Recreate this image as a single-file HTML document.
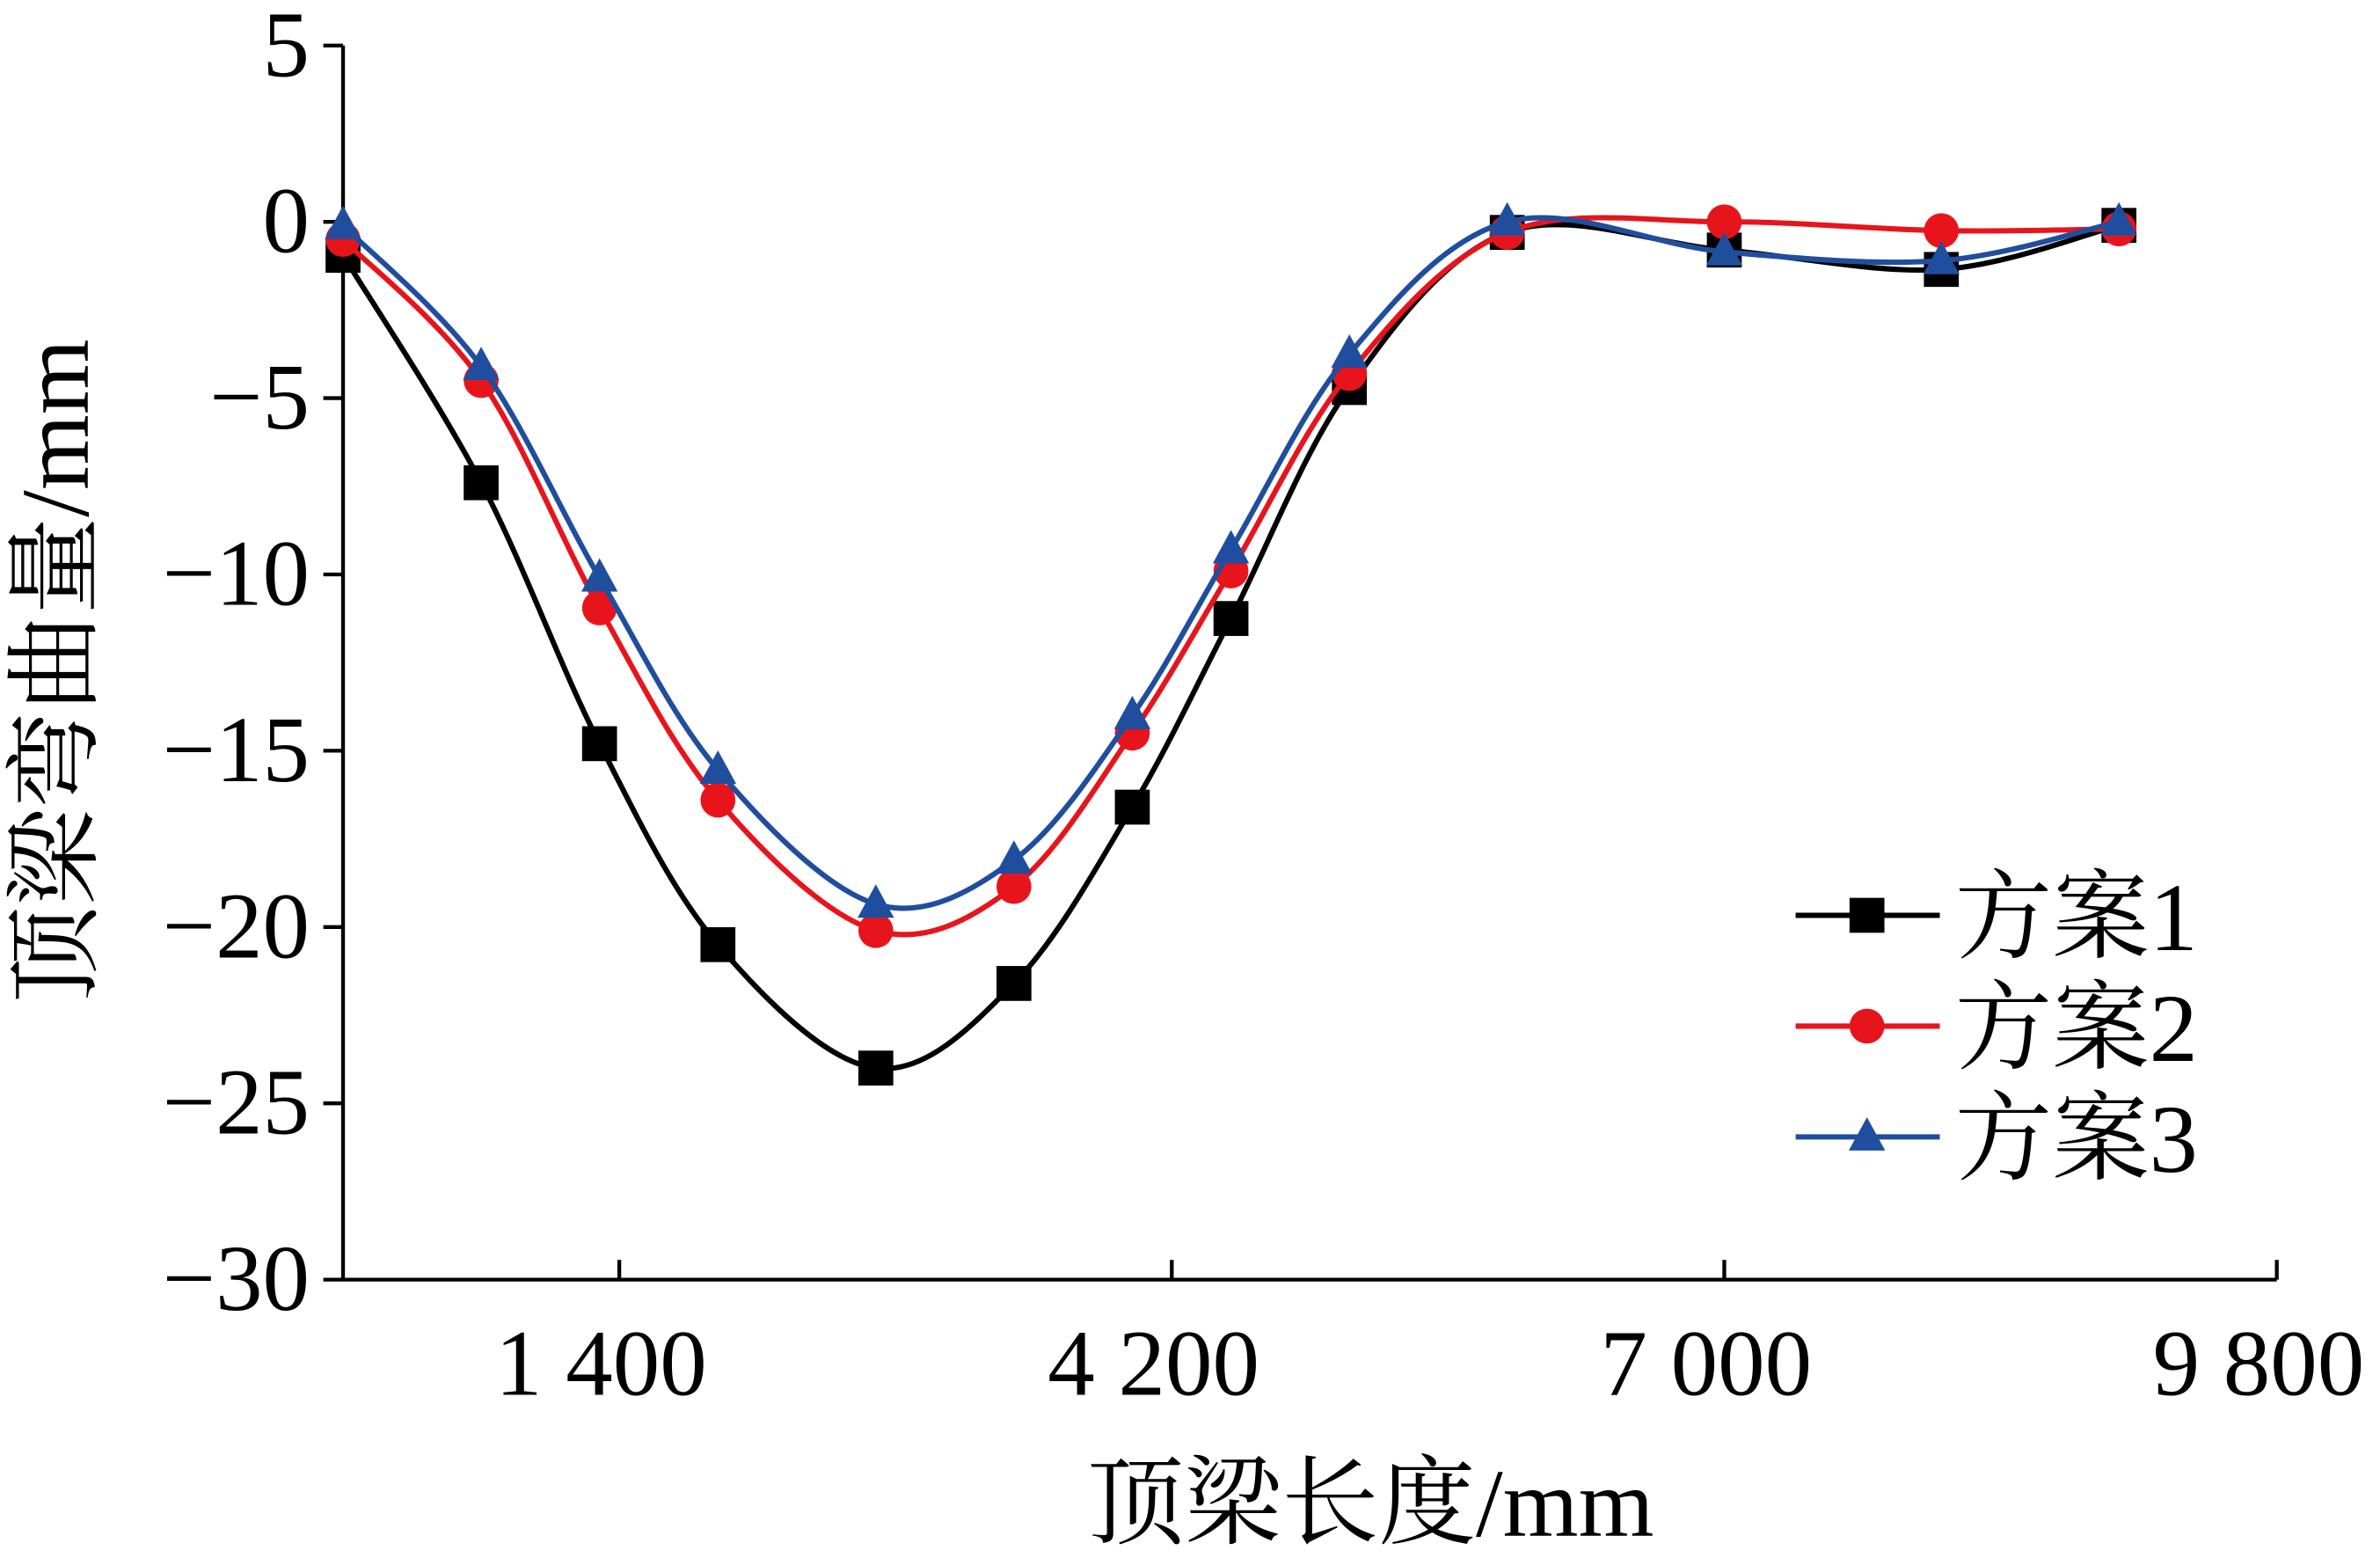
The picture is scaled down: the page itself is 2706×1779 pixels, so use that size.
<!DOCTYPE html>
<html><head><meta charset="utf-8"><style>html,body{margin:0;padding:0;background:#fff}svg{display:block}</style></head>
<body>
<svg id="chart" width="2706" height="1779" viewBox="0 0 1568 1031" preserveAspectRatio="none" xmlns="http://www.w3.org/2000/svg" font-family="'Liberation Serif','Noto Serif CJK SC',serif">
</svg>
<script>
const xValues = [0,700,1300,1900,2700,3400,4000,4500,5100,5900,7000,8100,9000];
const series1 = [-0.95,-7.4,-14.8,-20.5,-24.0,-21.6,-16.6,-11.25,-4.7,-0.3,-0.8,-1.35,-0.1];
const series2 = [-0.5,-4.5,-10.95,-16.4,-20.1,-18.85,-14.5,-9.9,-4.3,-0.3,0.0,-0.25,-0.2];
const series3 = [-0.1,-4.1,-10.1,-15.55,-19.35,-18.1,-14.0,-9.3,-3.75,0.0,-0.85,-1.1,0.0];
const seriesNames = ['方案1','方案2','方案3'];
const xTicks = [1400,4200,7000,9800];
const xTickLabels = ['1 400','4 200','7 000','9 800'];
const yTicks = [5,0,-5,-10,-15,-20,-25,-30];
const yTickLabels = ['5','0','−5','−10','−15','−20','−25','−30'];

const svg = document.getElementById('chart');
const NS = 'http://www.w3.org/2000/svg';
const X0=226, X1=1500, Y0=843, Y1=30;
const xs = v => X0 + v/9800*(X1-X0);
const ys = v => Y0 - (v+30)/35*(Y0-Y1);
function el(tag, attrs, parent){const e=document.createElementNS(NS,tag);for(const k in attrs)e.setAttribute(k,attrs[k]);(parent||svg).appendChild(e);return e;}

const axes = el('g',{});


const ya = el('line',{x1:X0,y1:Y1,x2:X0,y2:Y0,stroke:'#000','stroke-width':2.5},axes);


const xa = el('line',{x1:X0,y1:Y0,x2:X1,y2:Y0,stroke:'#000','stroke-width':2.5},axes);


yTicks.forEach((t,i)=>{
  el('line',{x1:X0-13,y1:ys(t),x2:X0,y2:ys(t),stroke:'#000','stroke-width':2.5},axes);
  const tx = el('text',{x:X0-22,y:ys(t)+20,'text-anchor':'end','font-size':62},axes);
  tx.textContent = yTickLabels[i];
  
  
});
xTicks.forEach((t,i)=>{
  el('line',{x1:xs(t),y1:Y0,x2:xs(t),y2:Y0-13,stroke:'#000','stroke-width':2.5},axes);
  const tx = el('text',{x:xs(t)-12,y:Y0+76,'text-anchor':'middle','font-size':62},axes);
  tx.textContent = xTickLabels[i];
  
  
});
const xt = el('text',{x:903,y:1012,'text-anchor':'middle','font-size':64});
xt.textContent='顶梁长度/mm';


const yt = el('text',{x:0,y:0,'text-anchor':'middle','font-size':64,transform:'translate(58,442) rotate(-90)'});
yt.textContent='顶梁弯曲量/mm';



function spline(pts){
  let d=`M${pts[0][0]},${pts[0][1]}`;
  for(let i=0;i<pts.length-1;i++){
    const p0=pts[Math.max(i-1,0)],p1=pts[i],p2=pts[i+1],p3=pts[Math.min(i+2,pts.length-1)];
    const c1=[p1[0]+(p2[0]-p0[0])/6,p1[1]+(p2[1]-p0[1])/6];
    const c2=[p2[0]-(p3[0]-p1[0])/6,p2[1]-(p3[1]-p1[1])/6];
    d+=`C${c1[0]},${c1[1]} ${c2[0]},${c2[1]} ${p2[0]},${p2[1]}`;
  }
  return d;
}
function marker(g,type,x,y,color){
  let m;
  if(type===0) m=el('rect',{x:x-11.5,y:y-11.5,width:23,height:23,fill:color},g);
  else if(type===1) m=el('circle',{cx:x,cy:y,r:11.5,fill:color},g);
  else m=el('polygon',{points:`${x},${y-13} ${x+12},${y+9} ${x-12},${y+9}`,fill:color},g);
  return m;
}
const colors=['#000','#e8141c','#1f4e9e'];
const all=[series1,series2,series3];
all.forEach((s,k)=>{
  const g=el('g',{});
  
  
  const pts=s.map((v,i)=>[xs(xValues[i]),ys(v)]);
  const p=el('path',{d:spline(pts),fill:'none',stroke:colors[k],'stroke-width':3.5},g);
  
  
  pts.forEach(pt=>{
    const m=marker(g,k,pt[0],pt[1],colors[k]);
    
    
  });
  const ly=603+k*73;
  const lg=el('g',{},g);
  
  
  el('line',{x1:1183,y1:ly,x2:1278,y2:ly,stroke:colors[k],'stroke-width':3.5},lg);
  marker(lg,k,1230,ly,colors[k]);
  const t=el('text',{x:1288,y:ly+23,'font-size':64},lg);
  t.textContent=seriesNames[k];
});
</script>
</body></html>
